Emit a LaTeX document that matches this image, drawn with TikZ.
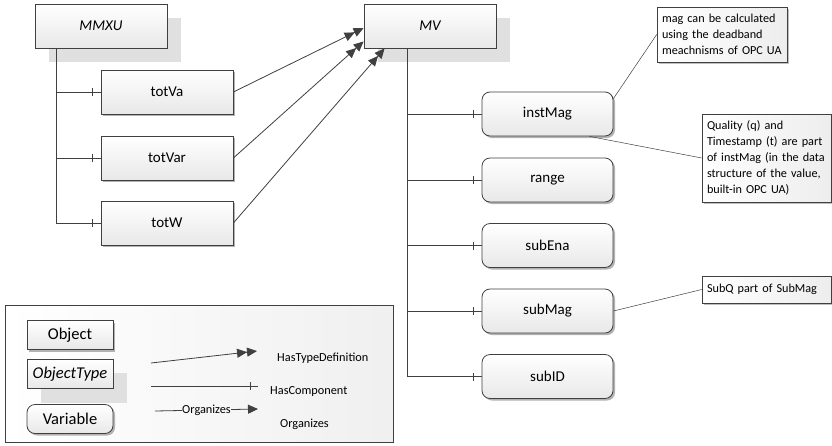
\documentclass[tikz,border=0pt]{standalone}
\usepackage{fontspec}
\setmainfont{Carlito}
\usetikzlibrary{arrows.meta,shadows,decorations.markings}
\definecolor{ln}{HTML}{404040}
\tikzset{
  base/.style={draw=ln, line width=0.8pt, top color=white, bottom color=black!9,
    inner sep=0pt, font=\fontsize{15}{18}\selectfont},
  objbox/.style={base, minimum width=132pt, minimum height=44pt,
    general shadow={fill=black!30, shadow xshift=2pt, shadow yshift=-2pt}},
  typebox/.style={base, minimum width=132pt, minimum height=44pt,
    font=\fontsize{15}{18}\selectfont\itshape,
    general shadow={fill=black!12, shadow xshift=14pt, shadow yshift=-14pt}},
  varbox/.style={objbox, rounded corners=8pt, minimum width=131pt},
  legsize/.style={minimum width=86pt, minimum height=29pt, font=\fontsize{16.5}{19}\selectfont},
  notebox/.style={draw=ln, line width=0.6pt, left color=white, right color=black!7,
    general shadow={fill=black!25, shadow xshift=1.5pt, shadow yshift=-1.5pt},
    font=\fontsize{12.2}{16}\selectfont, align=left, inner xsep=5pt, inner ysep=0pt},
  conn/.style={draw=ln, line width=0.8pt},
  typedef/.style={conn, -{Triangle[length=10pt,width=9pt]Triangle[length=10pt,width=9pt]}},
  hascomp/.style={conn, postaction={decorate, decoration={markings,
      mark=at position -8pt with {\draw[ln, line width=0.8pt] (0,-4pt) -- (0,4pt);}}}},
  organizes/.style={conn, -{Triangle[length=10pt,width=9pt]}},
  notelink/.style={draw=ln, line width=0.5pt},
  leglabel/.style={font=\fontsize{12.3}{15}\selectfont, anchor=west, inner sep=0pt},
}
\begin{document}
\begin{tikzpicture}[x=1pt, y=-1pt]
\useasboundingbox[fill=white] (0,0) rectangle (832,445);

% type nodes
\node[typebox] (mmxu) at (101,26) {MMXU};
\node[typebox] (mv) at (430,26) {MV};

% objects
\node[objbox] (totva) at (167,92) {totVa};
\node[objbox] (totvar) at (167,158) {totVar};
\node[objbox] (totw) at (167,223) {totW};

% variables
\node[varbox] (instmag) at (547.5,114) {instMag};
\node[varbox] (range) at (547.5,180) {range};
\node[varbox] (subena) at (547.5,245.5) {subEna};
\node[varbox] (submag) at (547.5,311) {subMag};
\node[varbox] (subid) at (547.5,376.5) {subID};

% notes
\node[notebox, text width=120pt, minimum height=55pt] (note1) at (722,34.5)
  {mag can be calculated\\using the deadband\\meachnisms of OPC UA};
\node[notebox, text width=119pt, minimum height=88pt] (note2) at (766.5,158)
  {Quality (q) and\\Timestamp (t) are part\\of instMag (in the data\\structure of the value,\\built-in OPC UA)};
\node[notebox, text width=119pt, minimum height=27pt] (note3) at (766.5,289.5)
  {SubQ part of SubMag};

% HasComponent trees
\draw[hascomp] (mmxu.south west) ++(22,0) |- (totva.west);
\draw[hascomp] (mmxu.south west) ++(22,0) |- (totvar.west);
\draw[hascomp] (mmxu.south west) ++(22,0) |- (totw.west);

\draw[hascomp] (mv.south west) ++(44,0) |- (instmag.west);
\draw[hascomp] (mv.south west) ++(44,0) |- (range.west);
\draw[hascomp] (mv.south west) ++(44,0) |- (subena.west);
\draw[hascomp] (mv.south west) ++(44,0) |- (submag.west);
\draw[hascomp] (mv.south west) ++(44,0) |- (subid.west);

% HasTypeDefinition
\draw[typedef] (totva.east) -- ([yshift=-2pt]mv.west);
\draw[typedef] (totvar.east) -- ([yshift=7pt]mv.south west);
\draw[typedef] (totw.east) -- ([xshift=21pt]mv.south west);

% note links
\draw[notelink] ([yshift=-7pt]instmag.north east) -- (note1.west);
\draw[notelink] ([xshift=42pt]instmag.south) -- (note2.west);
\draw[notelink] (submag.east) -- (note3.west);

% legend
\node[draw=ln, line width=0.8pt, left color=white, right color=black!6,
      minimum width=388pt, minimum height=137pt, inner sep=0pt] (legend) at (199,373.5) {};
\node[objbox, legsize] (lobj) at (70,335) {Object};
\node[typebox, legsize, font=\fontsize{16.5}{19}\selectfont\itshape,
      general shadow={fill=black!12, shadow xshift=14pt, shadow yshift=-13pt}] (ltype) at (70,374) {ObjectType};
\node[varbox, legsize] (lvar) at (70,419) {Variable};

\coordinate (td1) at (151,363);
\coordinate (td2) at (257,351);
\draw[typedef] (td1) -- (td2);
\node[leglabel] (ltd) at (277,358) {HasTypeDefinition};

\coordinate (hc1) at (151,386);
\coordinate (hc2) at (258,386);
\draw[hascomp] (hc1) -- (hc2);
\node[leglabel] (lhc) at (270,391) {HasComponent};

\coordinate (or1) at (155,411);
\coordinate (or2) at (258,409);
\draw[organizes] (or1) -- node[fill=black!3, inner sep=0.5pt, font=\fontsize{12.3}{15}\selectfont] (lorgmid) {Organizes} (or2);
\node[leglabel] (lorg) at (280,424) {Organizes};
\end{tikzpicture}
\end{document}
